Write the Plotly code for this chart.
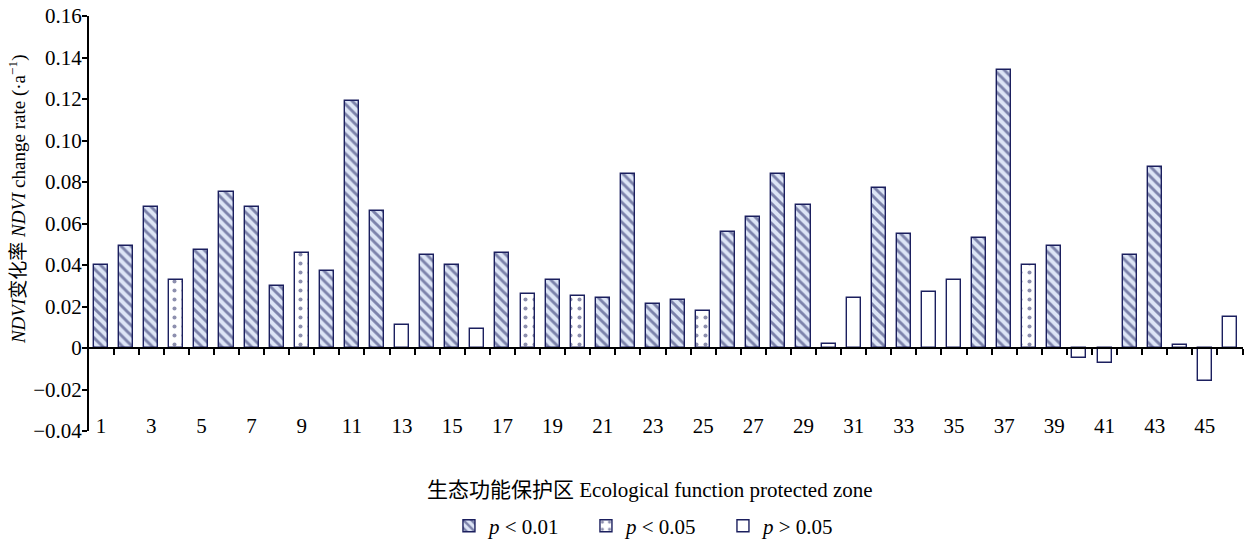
import plotly.graph_objects as go

# ---- data ----
zones = list(range(1, 47))
rates = [0.040, 0.049, 0.068, 0.033, 0.047, 0.075, 0.068, 0.030, 0.046, 0.037,
         0.119, 0.066, 0.011, 0.045, 0.040, 0.009, 0.046, 0.026, 0.033, 0.025,
         0.024, 0.084, 0.021, 0.023, 0.018, 0.056, 0.063, 0.084, 0.069, 0.002,
         0.024, 0.077, 0.055, 0.027, 0.033, 0.053, 0.134, 0.040, 0.049, -0.005,
         -0.007, 0.045, 0.087, 0.0015, -0.016, 0.015]
sig = ["H", "H", "H", "D", "H", "H", "H", "H", "D", "H",
       "H", "H", "O", "H", "H", "O", "H", "D", "H", "D",
       "H", "H", "H", "H", "D", "H", "H", "H", "H", "O",
       "O", "H", "H", "O", "O", "H", "H", "D", "H", "O",
       "O", "H", "H", "O", "O", "O"]
groups = ["H", "D", "O"]
group_names = ["<i>p</i> < 0.01", "<i>p</i> < 0.05", "<i>p</i> > 0.05"]
ytickvals = [-0.04, -0.02, 0, 0.02, 0.04, 0.06, 0.08, 0.10, 0.12, 0.14, 0.16]
yticktext = ["\u22120.04", "\u22120.02", "0", "0.02", "0.04", "0.06", "0.08",
             "0.10", "0.12", "0.14", "0.16"]
xtickvals = list(range(1, 46, 2))
xticktext = [str(v) for v in xtickvals]
boundaries = [z + 0.5 for z in zones]

NAVY = "#1b1f5e"
LIGHT = "#dde5f6"
SERIF = "Liberation Serif, Times New Roman, Noto Sans CJK SC, serif"
FS = 21

styles = {
    "H": dict(shape="\\", size=7, solidity=0.42, fgcolor=NAVY, bgcolor=LIGHT),
    "D": dict(shape=".", size=9, solidity=0.16, fgcolor=NAVY, bgcolor="white"),
    "O": dict(shape="", fgcolor=NAVY, bgcolor="white"),
}

fig = go.Figure()
for g, name in zip(groups, group_names):
    xs = [z for z, s in zip(zones, sig) if s == g]
    ys = [r for r, s in zip(rates, sig) if s == g]
    fig.add_trace(go.Bar(
        x=xs, y=ys, name=name, width=0.56,
        marker=dict(color="white", line=dict(color=NAVY, width=1.4),
                    pattern=styles[g]),
    ))

# invisible trace to host the zero-line axis
fig.add_trace(go.Scatter(x=[0.52, 46.52], y=[0, 0], xaxis="x2", mode="lines",
                         line=dict(width=0), showlegend=False, hoverinfo="skip"))

fig.update_layout(
    width=1248, height=542,
    margin=dict(l=89, r=5, t=16, b=111, autoexpand=False),
    plot_bgcolor="white", paper_bgcolor="white",
    bargap=0, barmode="overlay",
    font=dict(family=SERIF, size=FS, color="black"),
    xaxis=dict(range=[0.52, 46.52], tickvals=xtickvals, ticktext=xticktext,
               showline=False, ticks="", showgrid=False, zeroline=False,
               anchor="free", position=0.048, tickfont=dict(size=FS)),
    xaxis2=dict(range=[0.52, 46.52], overlaying="x", anchor="free", position=0.2,
                side="bottom", showline=True, linecolor="black", linewidth=2,
                ticks="outside", ticklen=6, tickwidth=2, tickcolor="black",
                tickvals=boundaries, showticklabels=False, showgrid=False,
                zeroline=False),
    yaxis=dict(range=[-0.04, 0.16], tickvals=ytickvals, ticktext=yticktext,
               showline=True, linecolor="black", linewidth=2,
               ticks="outside", ticklen=5, tickwidth=2, tickcolor="black",
               ticklabelstandoff=-4,
               showgrid=False, zeroline=False, tickfont=dict(size=FS)),
    legend=dict(orientation="h", x=0.49, xanchor="center", y=-0.229, yanchor="middle",
                font=dict(size=FS), itemwidth=30, entrywidth=92,
                traceorder="normal"),
    annotations=[
        dict(text="生态功能保护区 Ecological function protected zone",
             xref="paper", yref="paper", x=0.486, y=-0.142,
             xanchor="center", yanchor="middle", showarrow=False,
             font=dict(size=FS)),
        dict(text="<i>NDVI</i>变化率 <i>NDVI</i> change rate (·a<sup>−1</sup>)",
             xref="paper", yref="paper", x=-0.062, y=0.56, textangle=-90,
             xanchor="center", yanchor="middle", showarrow=False,
             font=dict(size=19)),
    ],
)

fig.write_html("out.html")
